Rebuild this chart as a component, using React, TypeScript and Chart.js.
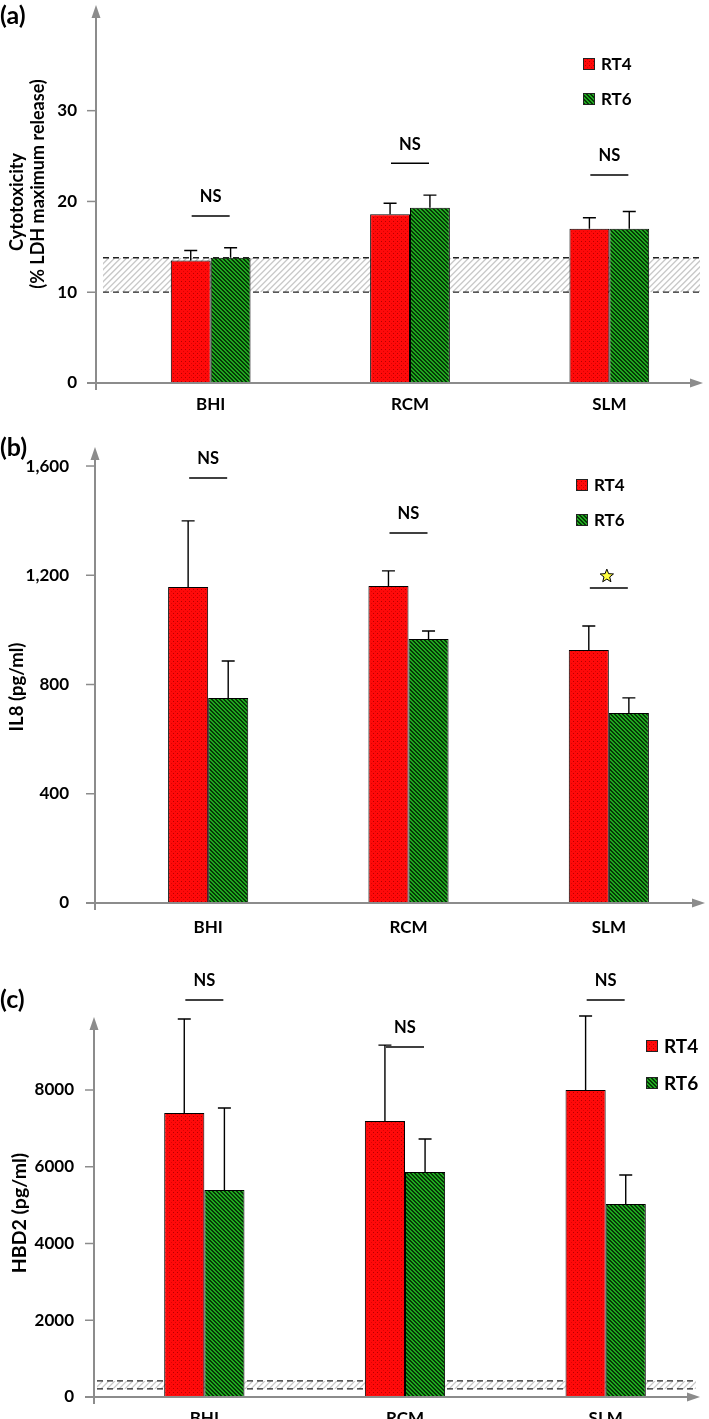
import React, { useEffect, useRef } from 'react';
import { Chart, registerables } from 'chart.js';
Chart.register(...registerables);

// ---------- data ----------
const categories = ['BHI', 'RCM', 'SLM'];
const seriesNames = ['RT4', 'RT6'];

// (a) Cytotoxicity (% LDH maximum release)
const cytoRT4 = [13.5, 18.6, 17.0];
const cytoRT4Err = [1.1, 1.2, 1.2];
const cytoRT6 = [13.8, 19.3, 17.0];
const cytoRT6Err = [1.1, 1.4, 1.9];
const cytoTicks = [0, 10, 20, 30];
const cytoBand = [10, 13.8];
const cytoSig = ['NS', 'NS', 'NS'];
const cytoSigLevel = [18.4, 24.2, 22.9];

// (b) IL8 (pg/ml)
const il8RT4 = [1157, 1161, 926];
const il8RT4Err = [242, 55, 88];
const il8RT6 = [751, 967, 696];
const il8RT6Err = [135, 29, 55];
const il8Ticks = [0, 400, 800, 1200, 1600];
const il8Sig = ['NS', 'NS', '*'];
const il8SigLevel = [1556, 1355, 1153];

// (c) HBD2 (pg/ml)
const hbdRT4 = [7400, 7190, 8000];
const hbdRT4Err = [2450, 1980, 1928];
const hbdRT6 = [5394, 5863, 5029];
const hbdRT6Err = [2137, 860, 756];
const hbdTicks = [0, 2000, 4000, 6000, 8000];
const hbdBand = [210, 420];
const hbdSig = ['NS', 'NS', 'NS'];
const hbdSigLevel = [10345, 9120, 10345];

const FONT = 'Lato, "Open Sans", sans-serif';

type Cfg = {
  top: number; height: number; padTop: number; padRight: number;
  yWidth: number; xHeight: number; max: number;
  rt4: number[]; rt4Err: number[]; rt6: number[]; rt6Err: number[];
  ticks: number[]; fmt: (v: number) => string; tickPad: number; tickFont: number;
  xPad: number; xFont: number;
  axisX: number; xEnd: number;
  band: number[] | null; bandX0: number; bandX1: number;
  sig: string[]; sigLevel: number[]; sigFont: number;
  titles: { text: string; x: number; y: number }[]; titleFont: number;
  panel: string; panelY: number;
  legX: number; legY: number[]; legSize: number; legFont: number;
};

const panels: Cfg[] = [
  {
    top: 0, height: 420, padTop: 9, padRight: 0, yWidth: 111, xHeight: 37, max: 41.2,
    rt4: cytoRT4, rt4Err: cytoRT4Err, rt6: cytoRT6, rt6Err: cytoRT6Err,
    ticks: cytoTicks, fmt: (v) => String(v), tickPad: 26, tickFont: 17,
    xPad: 3, xFont: 17, axisX: 96, xEnd: 703,
    band: cytoBand, bandX0: 103, bandX1: 700,
    sig: cytoSig, sigLevel: cytoSigLevel, sigFont: 16.5,
    titles: [
      { text: 'Cytotoxicity', x: 17, y: 202 },
      { text: '(% LDH maximum release)', x: 38, y: 184 },
    ],
    titleFont: 18, panel: '(a)', panelY: 16,
    legX: 583, legY: [64, 99], legSize: 12, legFont: 17,
  },
  {
    top: 420, height: 515, padTop: 31, padRight: 0, yWidth: 108, xHeight: 32, max: 1655,
    rt4: il8RT4, rt4Err: il8RT4Err, rt6: il8RT6, rt6Err: il8RT6Err,
    ticks: il8Ticks, fmt: (v) => v.toLocaleString('en-US'), tickPad: 31, tickFont: 17,
    xPad: 6, xFont: 17, axisX: 95, xEnd: 705,
    band: null, bandX0: 0, bandX1: 0,
    sig: il8Sig, sigLevel: il8SigLevel, sigFont: 16.5,
    titles: [{ text: 'IL8 (pg/ml)', x: 17, y: 267 }],
    titleFont: 18.5, panel: '(b)', panelY: 28,
    legX: 576, legY: [65, 100], legSize: 12, legFont: 17,
  },
  {
    top: 935, height: 484, padTop: 86, padRight: 3, yWidth: 104, xHeight: 22, max: 9798,
    rt4: hbdRT4, rt4Err: hbdRT4Err, rt6: hbdRT6, rt6Err: hbdRT6Err,
    ticks: hbdTicks, fmt: (v) => String(v), tickPad: 22, tickFont: 17,
    xPad: 3, xFont: 17, axisX: 94, xEnd: 700,
    band: hbdBand, bandX0: 97, bandX1: 696,
    sig: hbdSig, sigLevel: hbdSigLevel, sigFont: 16.5,
    titles: [{ text: 'HBD2 (pg/ml)', x: 20, y: 278 }],
    titleFont: 19.5, panel: '(c)', panelY: 65,
    legX: 646, legY: [111, 148], legSize: 12, legFont: 19,
  },
];

function makeRed(ctx: CanvasRenderingContext2D): CanvasPattern {
  const c = document.createElement('canvas');
  c.width = 4; c.height = 4;
  const g = c.getContext('2d')!;
  g.fillStyle = '#ff0a0a'; g.fillRect(0, 0, 4, 4);
  g.fillStyle = '#b30000'; g.fillRect(1, 1, 1, 1);
  g.fillStyle = '#e00000'; g.fillRect(3, 3, 1, 1);
  return ctx.createPattern(c, 'repeat')!;
}

function makeGreen(ctx: CanvasRenderingContext2D): CanvasPattern {
  const c = document.createElement('canvas');
  c.width = 4; c.height = 4;
  const g = c.getContext('2d')!;
  g.fillStyle = '#1fa81f'; g.fillRect(0, 0, 4, 4);
  g.fillStyle = '#063806';
  for (let i = 0; i < 4; i++) {
    g.fillRect(i, i, 1, 1);
    g.fillRect((i + 1) % 4, i, 1, 1);
  }
  return ctx.createPattern(c, 'repeat')!;
}

function drawStar(ctx: CanvasRenderingContext2D, cx: number, cy: number, ro: number, ri: number) {
  ctx.beginPath();
  for (let i = 0; i < 10; i++) {
    const r = i % 2 === 0 ? ro : ri;
    const a = -Math.PI / 2 + (i * Math.PI) / 5;
    const px = cx + r * Math.cos(a);
    const py = cy + r * Math.sin(a);
    if (i === 0) ctx.moveTo(px, py); else ctx.lineTo(px, py);
  }
  ctx.closePath();
  ctx.fillStyle = '#ffff40';
  ctx.fill();
  ctx.strokeStyle = '#000';
  ctx.lineWidth = 1;
  ctx.stroke();
}

function Panel({ cfg }: { cfg: Cfg }) {
  const ref = useRef<HTMLCanvasElement>(null);
  useEffect(() => {
    const canvas = ref.current!;
    const ctx = canvas.getContext('2d')!;
    const red = makeRed(ctx);
    const green = makeGreen(ctx);
    const fills = [red, green];

    const overlay = {
      id: 'overlay',
      beforeDatasetsDraw(chart: any) {
        if (!cfg.band) return;
        const c = chart.ctx as CanvasRenderingContext2D;
        const y = chart.scales.y;
        const yl = y.getPixelForValue(cfg.band[0]);
        const yh = y.getPixelForValue(cfg.band[1]);
        c.save();
        c.beginPath();
        c.rect(cfg.bandX0, yh, cfg.bandX1 - cfg.bandX0, yl - yh);
        c.clip();
        c.strokeStyle = '#c8c8c8';
        c.lineWidth = 1.3;
        const h = yl - yh;
        for (let x = cfg.bandX0 - h; x < cfg.bandX1 + h; x += 6) {
          c.beginPath();
          c.moveTo(x, yl);
          c.lineTo(x + h, yh);
          c.stroke();
        }
        c.restore();
        c.save();
        c.strokeStyle = '#222';
        c.lineWidth = 1.3;
        c.setLineDash([6, 4]);
        [yl, yh].forEach((yy) => {
          c.beginPath();
          c.moveTo(cfg.bandX0, yy);
          c.lineTo(cfg.bandX1, yy);
          c.stroke();
        });
        c.restore();
      },
      afterDraw(chart: any) {
        const c = chart.ctx as CanvasRenderingContext2D;
        const ys = chart.scales.y;
        const xs = chart.scales.x;
        const area = chart.chartArea;
        c.save();
        // error bars
        const errs = [cfg.rt4Err, cfg.rt6Err];
        const vals = [cfg.rt4, cfg.rt6];
        c.strokeStyle = '#000';
        c.lineWidth = 1.4;
        for (let d = 0; d < 2; d++) {
          const meta = chart.getDatasetMeta(d);
          meta.data.forEach((bar: any, j: number) => {
            const yTop = ys.getPixelForValue(vals[d][j] + errs[d][j]);
            c.beginPath();
            c.moveTo(bar.x, bar.y);
            c.lineTo(bar.x, yTop);
            c.moveTo(bar.x - 6.5, yTop);
            c.lineTo(bar.x + 6.5, yTop);
            c.stroke();
          });
        }
        // axes
        const gray = '#8c8c8c';
        const ax = cfg.axisX;
        const bottom = area.bottom;
        c.strokeStyle = gray;
        c.fillStyle = gray;
        c.lineWidth = 2;
        c.beginPath();
        c.moveTo(ax, bottom + 7);
        c.lineTo(ax, area.top + 4);
        c.moveTo(ax - 9, bottom);
        c.lineTo(cfg.xEnd - 8, bottom);
        c.stroke();
        c.beginPath();
        c.moveTo(ax, area.top - 4);
        c.lineTo(ax - 4.5, area.top + 9);
        c.lineTo(ax + 4.5, area.top + 9);
        c.closePath();
        c.fill();
        c.beginPath();
        c.moveTo(cfg.xEnd, bottom);
        c.lineTo(cfg.xEnd - 13, bottom - 4.5);
        c.lineTo(cfg.xEnd - 13, bottom + 4.5);
        c.closePath();
        c.fill();
        // y tick marks
        c.lineWidth = 1.5;
        cfg.ticks.forEach((t) => {
          const py = ys.getPixelForValue(t);
          c.beginPath();
          c.moveTo(ax - 9, py);
          c.lineTo(ax, py);
          c.stroke();
        });
        // significance
        c.fillStyle = '#000';
        c.strokeStyle = '#000';
        c.textAlign = 'center';
        c.textBaseline = 'middle';
        c.font = `bold ${cfg.sigFont}px ${FONT}`;
        cfg.sig.forEach((s, j) => {
          const cx = xs.getPixelForValue(j);
          const ly = ys.getPixelForValue(cfg.sigLevel[j]);
          c.lineWidth = 1.5;
          c.beginPath();
          c.moveTo(cx - 19, ly);
          c.lineTo(cx + 19, ly);
          c.stroke();
          if (s === '*') {
            drawStar(c, cx - 2, ly - 12, 7, 3);
          } else {
            c.fillStyle = '#000';
            c.fillText(s, cx, ly - 19);
          }
        });
        // legend
        c.textAlign = 'left';
        c.textBaseline = 'middle';
        c.font = `bold ${cfg.legFont}px ${FONT}`;
        seriesNames.forEach((n, i) => {
          const cy = cfg.legY[i];
          const s = cfg.legSize;
          c.fillStyle = fills[i];
          c.fillRect(cfg.legX, cy - s / 2, s, s);
          c.strokeStyle = '#222';
          c.lineWidth = 1;
          c.strokeRect(cfg.legX + 0.5, cy - s / 2 + 0.5, s - 1, s - 1);
          c.fillStyle = '#000';
          c.fillText(n, cfg.legX + s + 6, cy + 1);
        });
        // panel label
        c.font = `bold 25px ${FONT}`;
        c.fillText(cfg.panel, 0, cfg.panelY);
        // axis titles
        c.font = `bold ${cfg.titleFont}px ${FONT}`;
        c.textAlign = 'center';
        cfg.titles.forEach((t) => {
          c.save();
          c.translate(t.x, t.y);
          c.rotate(-Math.PI / 2);
          c.fillText(t.text, 0, 0);
          c.restore();
        });
        c.restore();
      },
    };

    const chart = new Chart(ctx, {
      type: 'bar',
      data: {
        labels: categories,
        datasets: [
          {
            label: seriesNames[0], data: cfg.rt4, backgroundColor: red,
            borderColor: '#000', borderWidth: 1, categoryPercentage: 0.4, barPercentage: 1,
          },
          {
            label: seriesNames[1], data: cfg.rt6, backgroundColor: green,
            borderColor: '#000', borderWidth: 1, categoryPercentage: 0.4, barPercentage: 1,
          },
        ],
      },
      options: {
        responsive: false,
        animation: false,
        events: [],
        layout: { padding: { top: cfg.padTop, right: cfg.padRight, left: 0, bottom: 0 } },
        plugins: { legend: { display: false }, tooltip: { enabled: false } },
        scales: {
          x: {
            grid: { display: false },
            border: { display: false },
            ticks: {
              color: '#000', padding: cfg.xPad, maxRotation: 0,
              font: { family: FONT, weight: 'bold', size: cfg.xFont },
            },
            afterFit: (s: any) => {
              s.height = cfg.xHeight;
              s.paddingLeft = 0; s.paddingRight = 0; s.paddingTop = 0; s.paddingBottom = 0;
            },
          },
          y: {
            min: 0, max: cfg.max,
            grid: { display: false },
            border: { display: false },
            ticks: {
              color: '#000', padding: cfg.tickPad,
              font: { family: FONT, weight: 'bold', size: cfg.tickFont },
              callback: (v: any) => cfg.fmt(Number(v)),
            },
            afterBuildTicks: (s: any) => { s.ticks = cfg.ticks.map((v) => ({ value: v })); },
            afterFit: (s: any) => {
              s.width = cfg.yWidth;
              s.paddingLeft = 0; s.paddingRight = 0; s.paddingTop = 0; s.paddingBottom = 0;
            },
          },
        },
      } as any,
      plugins: [overlay as any],
    });
    return () => chart.destroy();
  }, []);
  return (
    <canvas
      ref={ref}
      width={709}
      height={cfg.height}
      style={{ position: 'absolute', left: 0, top: cfg.top, width: 709, height: cfg.height }}
    />
  );
}

export default function App() {
  return (
    <div style={{ position: 'fixed', left: 0, top: 0, width: 709, height: 1419, background: '#fff', overflow: 'hidden' }}>
      {panels.map((p, i) => (
        <Panel key={i} cfg={p} />
      ))}
    </div>
  );
}
